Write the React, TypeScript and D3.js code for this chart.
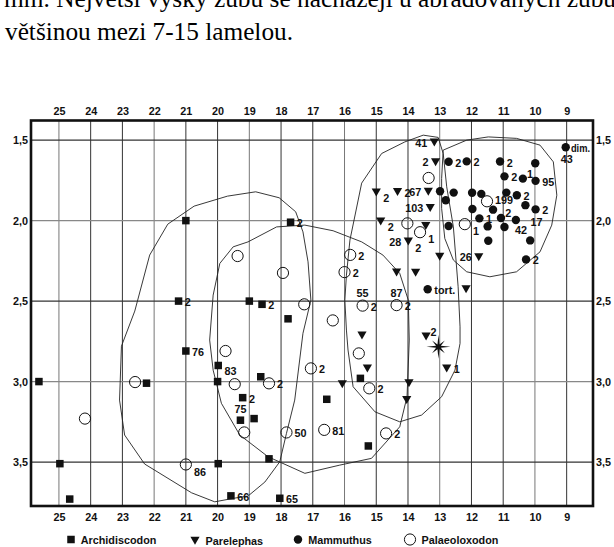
import { useEffect, useRef } from "react";
import * as d3 from "d3";

// osa x: počet lamel (25 .. 9), osa y: tloušťka skloviny (1,5 .. 3,5)
const xTicks = [25, 24, 23, 22, 21, 20, 19, 18, 17, 16, 15, 14, 13, 12, 11, 10, 9];
const yTicks = [1.5, 2.0, 2.5, 3.0, 3.5];
const xFrame = [25.88, 8.17];
const yFrame = [1.378, 3.773];

const textLine1 = "mm. Největší výšky zubů se nacházejí u abradovaných zubů";
const textLine2 = "většinou mezi 7-15 lamelou.";

type Pt = { x: number; y: number; t?: string; at?: string; t2?: string; at2?: string };

const archidiscodon: Pt[] = [
    { x: 21.0, y: 2.0 },
    { x: 21.23, y: 2.5, t: "2", at: "r" },
    { x: 17.7, y: 2.01, t: "2", at: "r" },
    { x: 19.0, y: 2.5 },
    { x: 18.6, y: 2.52, t: "2", at: "r" },
    { x: 17.78, y: 2.61 },
    { x: 21.0, y: 2.81, t: "76", at: "r" },
    { x: 19.98, y: 2.9, t: "83", at: "br" },
    { x: 20.0, y: 3.0 },
    { x: 18.64, y: 2.97 },
    { x: 19.21, y: 3.1, t: "2", at: "r" },
    { x: 19.28, y: 3.24, t: "75", at: "a" },
    { x: 18.85, y: 3.23 },
    { x: 16.56, y: 3.11 },
    { x: 15.5, y: 2.98 },
    { x: 15.25, y: 3.4 },
    { x: 18.38, y: 3.48 },
    { x: 19.98, y: 3.51 },
    { x: 19.58, y: 3.71, t: "66", at: "r" },
    { x: 18.04, y: 3.725, t: "65", at: "r" },
    { x: 25.63, y: 3.0 },
    { x: 22.24, y: 3.01 },
    { x: 24.97, y: 3.51 },
    { x: 24.66, y: 3.73 },
];

const parelephas: Pt[] = [
    { x: 13.17, y: 1.515, t: "41", at: "l" },
    { x: 13.13, y: 1.638, t: "2", at: "l" },
    { x: 15.0, y: 1.825, t: "2", at: "br" },
    { x: 14.33, y: 1.822, t: "2", at: "r" },
    { x: 13.36, y: 1.821, t: "67", at: "l" },
    { x: 13.3, y: 1.922, t: "103", at: "l" },
    { x: 14.86, y: 2.005, t: "2", at: "br" },
    { x: 13.44, y: 2.033 },
    { x: 13.99, y: 2.13, t: "28", at: "l", t2: "2", at2: "br" },
    { x: 13.0, y: 2.225 },
    { x: 11.77, y: 2.227, t: "26", at: "l" },
    { x: 14.36, y: 2.322 },
    { x: 13.76, y: 2.324 },
    { x: 12.17, y: 2.426 },
    { x: 15.45, y: 2.714 },
    { x: 13.43, y: 2.72, t: "2", at: "ar" },
    { x: 12.78, y: 2.918, t: "1", at: "r" },
    { x: 15.28, y: 2.918 },
    { x: 16.07, y: 3.016 },
    { x: 13.97, y: 3.01 },
    { x: 14.04, y: 3.115 },
];

const mammuthus: Pt[] = [
    { x: 9.03, y: 1.544, t: "dim.", at: "r", t2: "43", at2: "b" },
    { x: 12.72, y: 1.634, t: "2", at: "r" },
    { x: 12.15, y: 1.632, t: "2", at: "r" },
    { x: 11.1, y: 1.633, t: "2", at: "r" },
    { x: 9.99, y: 1.644 },
    { x: 10.96, y: 1.725, t: "2", at: "r" },
    { x: 10.38, y: 1.739, t: "1", at: "ar" },
    { x: 9.98, y: 1.753, t: "95", at: "r" },
    { x: 12.99, y: 1.818 },
    { x: 12.56, y: 1.826 },
    { x: 12.81, y: 1.873 },
    { x: 11.98, y: 1.827 },
    { x: 11.69, y: 1.834 },
    { x: 10.9, y: 1.826 },
    { x: 10.57, y: 1.842, t: "2", at: "r" },
    { x: 11.97, y: 1.928 },
    { x: 11.32, y: 1.932 },
    { x: 10.3, y: 1.904 },
    { x: 9.98, y: 1.93, t: "2", at: "r", t2: "17", at2: "b" },
    { x: 11.75, y: 1.986, t: "1", at: "r" },
    { x: 11.07, y: 1.984, t: "2", at: "ar" },
    { x: 10.6, y: 1.996, t: "42", at: "bR" },
    { x: 12.72, y: 2.033 },
    { x: 11.49, y: 2.036 },
    { x: 10.96, y: 2.04 },
    { x: 11.47, y: 2.125 },
    { x: 10.15, y: 2.123 },
    { x: 10.28, y: 2.241, t: "2", at: "r" },
    { x: 13.38, y: 2.426, t: "tort.", at: "r" },
];

const palaeoloxodon: Pt[] = [
    { x: 19.37, y: 2.22 },
    { x: 17.94, y: 2.325 },
    { x: 17.27, y: 2.52 },
    { x: 15.82, y: 2.213, t: "2", at: "r" },
    { x: 16.0, y: 2.32, t: "2", at: "r" },
    { x: 15.43, y: 2.528, t: "55", at: "a", t2: "2", at2: "r" },
    { x: 14.36, y: 2.525, t: "87", at: "a", t2: "2", at2: "r" },
    { x: 13.35, y: 1.735 },
    { x: 14.02, y: 2.017 },
    { x: 13.62, y: 2.072, t: "1", at: "br" },
    { x: 12.21, y: 2.022, t: "1", at: "br" },
    { x: 11.51, y: 1.88, t: "199", at: "rU" },
    { x: 16.37, y: 2.62 },
    { x: 15.55, y: 2.825 },
    { x: 15.22, y: 3.042, t: "2", at: "r" },
    { x: 17.06, y: 2.918, t: "2", at: "r" },
    { x: 16.64, y: 3.3, t: "81", at: "r" },
    { x: 17.83, y: 3.316, t: "50", at: "r" },
    { x: 14.69, y: 3.322, t: "2", at: "r" },
    { x: 19.75, y: 2.81 },
    { x: 19.46, y: 3.016 },
    { x: 18.38, y: 3.011, t: "2", at: "r" },
    { x: 19.16, y: 3.316 },
    { x: 22.6, y: 3.003 },
    { x: 24.18, y: 3.23 },
    { x: 21.0, y: 3.515, t: "86", at: "br" },
];

// hvězdička - zvláštní nález
const starPoint = { x: 13.04, y: 2.784 };

// obrysy skupin
const hullArchidiscodon: [number, number][] = [
    [23.09, 3.115], [23.03, 2.78], [22.61, 2.562], [22.14, 2.214], [21.57, 2.022],
    [20.74, 1.91], [19.69, 1.848], [18.8, 1.821], [18.06, 1.858], [17.54, 1.945],
    [17.31, 2.07], [17.15, 2.256], [17.06, 2.494], [17.31, 2.7], [17.57, 3.115],
    [17.83, 3.322], [18.04, 3.498], [18.51, 3.624], [19.04, 3.711], [19.46, 3.724],
    [20.09, 3.747], [20.82, 3.691], [22.3, 3.512], [22.93, 3.332],
];
const hullPalaeoloxodon: [number, number][] = [
    [20.25, 2.742], [20.14, 2.463], [19.93, 2.266], [19.51, 2.163], [19.04, 2.132],
    [18.14, 2.039], [17.25, 2.028], [16.36, 2.063], [15.46, 2.132], [14.79, 2.214],
    [14.26, 2.328], [13.99, 2.494], [13.96, 2.742], [14.03, 3.094], [14.26, 3.281],
    [15.15, 3.477], [16.15, 3.519], [17.25, 3.57], [18.41, 3.467], [19.3, 3.332],
    [19.88, 3.135], [20.14, 2.929],
];
const hullParelephas: [number, number][] = [
    [15.94, 2.68], [15.99, 2.494], [15.94, 2.339], [15.83, 2.121], [15.46, 1.767],
    [14.83, 1.583], [14.1, 1.511], [13.52, 1.469], [13.05, 1.483], [12.89, 1.583],
    [12.78, 1.79], [12.57, 2.039], [12.42, 2.411], [12.36, 2.66], [12.36, 2.763],
    [12.52, 2.929], [12.94, 3.094], [13.57, 3.208], [14.26, 3.25], [15.04, 3.188],
    [15.73, 3.032], [15.89, 2.804],
];
const hullMammuthus: [number, number][] = [
    [12.89, 1.562], [12.15, 1.5], [11.47, 1.48], [10.58, 1.489], [9.84, 1.531],
    [9.42, 1.635], [9.31, 1.842], [9.47, 2.028], [9.84, 2.194], [10.58, 2.318],
    [11.42, 2.349], [12.15, 2.318], [12.57, 2.245], [12.84, 2.111], [12.94, 1.924],
    [12.94, 1.738],
];

const seriesNames = ["Archidiscodon", "Parelephas", "Mammuthus", "Palaeoloxodon"];
const seriesKinds = ["square", "triangle", "dot", "ring"];
const legendX = [71, 195, 298, 410];

const FONT = "'Liberation Sans', Arial, sans-serif";
const RIGHT_LIMIT = 590;

function markerSize(kind: string) {
    if (kind === "square") return 3.75;
    if (kind === "triangle") return 4.5;
    if (kind === "dot") return 4.2;
    return 5.6;
}

function drawMarker(g: any, kind: string, cx: number, cy: number) {
    if (kind === "square") {
        g.append("rect")
            .attr("x", cx - 3.75)
            .attr("y", cy - 3.75)
            .attr("width", 7.5)
            .attr("height", 7.5)
            .attr("fill", "#111");
    } else if (kind === "triangle") {
        g.append("path")
            .attr("d", `M${cx - 4.6},${cy - 4}L${cx + 4.6},${cy - 4}L${cx},${cy + 4}Z`)
            .attr("fill", "#111");
    } else if (kind === "dot") {
        g.append("circle").attr("cx", cx).attr("cy", cy).attr("r", 4.2).attr("fill", "#111");
    } else {
        g.append("circle")
            .attr("cx", cx)
            .attr("cy", cy)
            .attr("r", 5.6)
            .attr("fill", "none")
            .attr("stroke", "#111")
            .attr("stroke-width", 1);
    }
}

function drawLabel(g: any, text: string, at: string, cx: number, cy: number, m: number) {
    let x = cx + m + 2.5;
    let y = cy + 5;
    let anchor = "start";
    if (at === "l") {
        x = cx - m - 2.5;
        y = cy + 4;
        anchor = "end";
    } else if (at === "rU") {
        y = cy + 2.5;
    } else if (at === "a") {
        x = cx;
        y = cy - m - 3;
        anchor = "middle";
    } else if (at === "b") {
        x = cx + 1;
        y = cy + m + 12;
        anchor = "middle";
    } else if (at === "bR") {
        x = cx + 5;
        y = cy + m + 9.5;
        anchor = "middle";
    } else if (at === "ar") {
        x = cx + m;
        y = cy - m + 3.5;
    } else if (at === "br") {
        x = cx + m + 2.5;
        y = cy + m + 5.5;
    }
    const el = g
        .append("text")
        .attr("x", x)
        .attr("y", y)
        .attr("text-anchor", anchor)
        .attr("font-family", FONT)
        .attr("font-weight", "bold")
        .attr("font-size", 10.8)
        .attr("fill", "#111")
        .text(text);
    // nesmí přesahovat rámeček
    if (anchor === "start") {
        const w = el.node().getComputedTextLength();
        if (x + w > RIGHT_LIMIT) {
            el.attr("x", Math.max(cx + m + 1, RIGHT_LIMIT - w * 0.88))
                .attr("textLength", RIGHT_LIMIT - Math.max(cx + m + 1, RIGHT_LIMIT - w * 0.88))
                .attr("lengthAdjust", "spacingAndGlyphs");
        }
    }
}

function App() {
    const svgRef = useRef<SVGSVGElement>(null);

    useEffect(() => {
        const svg: any = d3.select(svgRef.current);
        svg.selectAll("*").remove();

        const x = d3.scaleLinear().domain(xFrame).range([31, 593]);
        const y = d3.scaleLinear().domain(yFrame).range([120.5, 506]);

        // text nad grafem
        svg.append("text")
            .attr("x", 4)
            .attr("y", 7)
            .attr("font-family", "'Liberation Serif', 'Times New Roman', serif")
            .attr("font-size", 25)
            .attr("textLength", 612)
            .attr("lengthAdjust", "spacingAndGlyphs")
            .text(textLine1);
        svg.append("text")
            .attr("x", 5)
            .attr("y", 40)
            .attr("font-family", "'Liberation Serif', 'Times New Roman', serif")
            .attr("font-size", 25)
            .attr("textLength", 288)
            .attr("lengthAdjust", "spacingAndGlyphs")
            .text(textLine2);

        // mřížka
        const grid = svg.append("g");
        grid.selectAll("line.v")
            .data(xTicks)
            .join("line")
            .attr("class", "v")
            .attr("x1", (d: number) => x(d))
            .attr("x2", (d: number) => x(d))
            .attr("y1", y(yFrame[0]))
            .attr("y2", y(yFrame[1]))
            .attr("stroke", (d: number, i: number) => (i % 3 === 0 ? "#777" : "#333"))
            .attr("stroke-width", 1);
        grid.selectAll("line.h")
            .data(yTicks)
            .join("line")
            .attr("class", "h")
            .attr("x1", x(xFrame[0]))
            .attr("x2", x(xFrame[1]))
            .attr("y1", (d: number) => y(d))
            .attr("y2", (d: number) => y(d))
            .attr("stroke", (d: number, i: number) => (i % 2 === 1 ? "#888" : "#333"))
            .attr("stroke-width", 1.2);

        // osy
        const fmtY = (d: any) => d3.format(".1f")(d).replace(".", ",");
        const styleAxis = (g: any) => {
            g.select(".domain").remove();
            g.attr("font-family", FONT).attr("font-size", 10.8).attr("font-weight", "bold");
            g.selectAll("text").attr("fill", "#111");
        };
        svg.append("g")
            .attr("transform", `translate(0,${y(yFrame[0])})`)
            .call(d3.axisTop(x).tickValues(xTicks).tickSize(0).tickPadding(6).tickFormat(d3.format("d")))
            .call(styleAxis);
        svg.append("g")
            .attr("transform", `translate(0,${y(yFrame[1])})`)
            .call(d3.axisBottom(x).tickValues(xTicks).tickSize(0).tickPadding(7).tickFormat(d3.format("d")))
            .call(styleAxis);
        svg.append("g")
            .attr("transform", `translate(${x(xFrame[0])},0)`)
            .call(d3.axisLeft(y).tickValues(yTicks).tickSize(0).tickPadding(3).tickFormat(fmtY))
            .call(styleAxis);
        svg.append("g")
            .attr("transform", `translate(${x(xFrame[1])},0)`)
            .call(d3.axisRight(y).tickValues(yTicks).tickSize(0).tickPadding(3).tickFormat(fmtY))
            .call(styleAxis);

        // obrysy
        const line = d3
            .line<[number, number]>()
            .x((d) => x(d[0]))
            .y((d) => y(d[1]))
            .curve(d3.curveLinearClosed);
        svg.append("g")
            .selectAll("path")
            .data([hullArchidiscodon, hullPalaeoloxodon, hullParelephas, hullMammuthus])
            .join("path")
            .attr("d", (d: any) => line(d))
            .attr("fill", "none")
            .attr("stroke", "#222")
            .attr("stroke-width", 0.9);

        // body
        const allSeries = [archidiscodon, parelephas, mammuthus, palaeoloxodon];
        const marks = svg.append("g");
        const labels = svg.append("g");
        allSeries.forEach((pts, si) => {
            const kind = seriesKinds[si];
            const m = markerSize(kind);
            pts.forEach((p) => {
                const cx = x(p.x);
                const cy = y(p.y);
                drawMarker(marks, kind, cx, cy);
                if (p.t) drawLabel(labels, p.t, p.at || "r", cx, cy, m);
                if (p.t2) drawLabel(labels, p.t2, p.at2 || "r", cx, cy, m);
            });
        });

        // hvězda
        const sx = x(starPoint.x);
        const sy = y(starPoint.y);
        const starPts: [number, number][] = d3.range(16).map((i) => {
            const a = (i * Math.PI) / 8 - Math.PI / 2;
            const r = i % 2 === 1 ? 2.6 : i % 4 === 0 ? 12 : 9;
            return [sx + r * Math.cos(a), sy + r * Math.sin(a)];
        });
        svg.append("path")
            .attr("d", d3.line().curve(d3.curveLinearClosed)(starPts))
            .attr("fill", "#111");

        // rámeček
        svg.append("rect")
            .attr("x", x(xFrame[0]))
            .attr("y", y(yFrame[0]))
            .attr("width", x(xFrame[1]) - x(xFrame[0]))
            .attr("height", y(yFrame[1]) - y(yFrame[0]))
            .attr("fill", "none")
            .attr("stroke", "#111")
            .attr("stroke-width", 2.6);

        // legenda
        const legend = svg.append("g");
        seriesNames.forEach((name, i) => {
            const lx = legendX[i];
            const ly = i === 1 ? 540.7 : 539.5;
            drawMarker(legend, seriesKinds[i], lx, ly);
            legend.append("text")
                .attr("x", lx + markerSize(seriesKinds[i]) + 6)
                .attr("y", ly + 4)
                .attr("font-family", FONT)
                .attr("font-weight", "bold")
                .attr("font-size", 10.8)
                .attr("fill", "#111")
                .text(name);
        });
    }, []);

    return (
        <svg
            ref={svgRef}
            width={614}
            height={547}
            style={{ position: "absolute", left: 0, top: 0, background: "#fff" }}
        />
    );
}

export default App;
